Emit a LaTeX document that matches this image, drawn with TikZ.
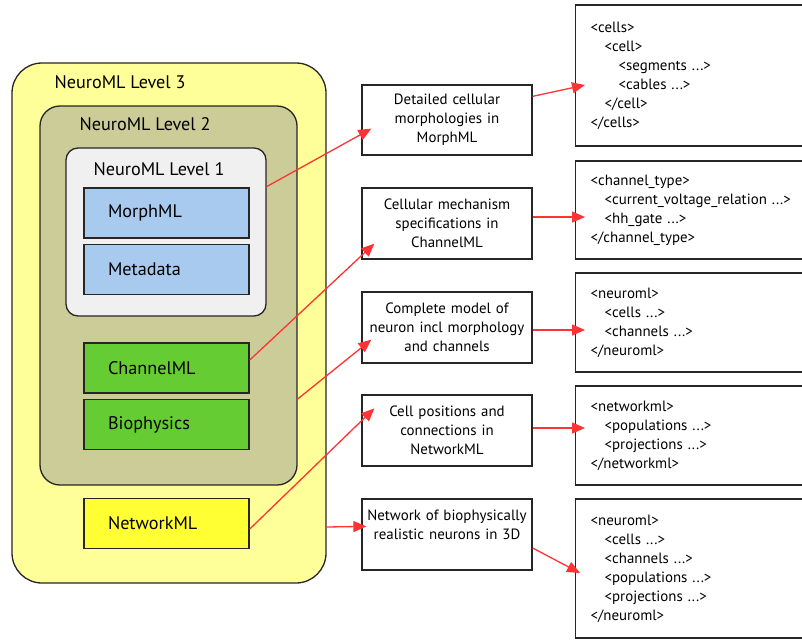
\documentclass[tikz,border=0pt]{standalone}
\usepackage{fontspec}
\setmainfont{PT Sans}
\usetikzlibrary{calc,arrows.meta}
\definecolor{lvlthree}{HTML}{FFFF99}
\definecolor{lvltwo}{HTML}{CCCC99}
\definecolor{lvlone}{HTML}{F0F0F0}
\definecolor{morphblue}{HTML}{A8CAEE}
\definecolor{chgreen}{HTML}{66CC33}
\definecolor{netyellow}{HTML}{FFFF33}
\definecolor{arrowred}{HTML}{FF3333}
\newcommand{\codein}{\hspace*{14pt}}
\newcommand{\bigtxt}{\fontsize{18.2}{21}\selectfont}
\newcommand{\smalltxt}{\fontsize{14.9}{19}\selectfont}
\begin{document}
\begin{tikzpicture}[x=1pt,y=1pt,>={Triangle[length=13pt,width=11pt]},
    lvl/.style={draw=black!85,line width=1.3pt,rounded corners=#1},
    lvltitle/.style={anchor=west,inner sep=0pt,font=\bigtxt},
    mlbox/.style={draw=black!85,line width=1.5pt,minimum width=165pt,minimum height=50pt,
        text width=117pt,inner xsep=24pt,align=left,font=\bigtxt},
    midbox/.style={draw=black!85,line width=1.3pt,minimum width=170pt,minimum height=71pt,
        text width=166pt,inner xsep=2pt,align=center,font=\smalltxt},
    codebox/.style={draw=black!85,line width=1.3pt,anchor=west,minimum height=#1,
        text width=240pt,inner xsep=15pt,align=left,font=\smalltxt},
    arrowline/.style={->,draw=arrowred,line width=1.3pt}]
\useasboundingbox (0,0) rectangle (802,-640);
% nested levels
\node[lvl=30pt,fill=lvlthree,minimum width=314pt,minimum height=520pt](l3) at (169,-323){};
\node[lvltitle] at ($(l3.north west)+(43,-20)$) {NeuroML Level 3};
\node[lvl=20pt,fill=lvltwo,minimum width=257pt,minimum height=379pt](l2) at (168.5,-295.5){};
\node[lvltitle] at ($(l2.north west)+(40,-19)$) {NeuroML Level 2};
\node[lvl=12pt,fill=lvlone,minimum width=200pt,minimum height=168pt](l1) at (166,-232){};
\node[lvltitle] at ($(l1.north west)+(28,-22)$) {NeuroML Level 1};
\node[mlbox,fill=morphblue](morph) at (166.5,-213){MorphML};
\node[mlbox,fill=morphblue](meta) at (166.5,-269.5){Metadata};
\node[mlbox,fill=chgreen](chan) at (166.5,-368){ChannelML};
\node[mlbox,fill=chgreen](bio) at (166.5,-424.5){Biophysics};
\node[mlbox,fill=netyellow](net) at (166.5,-523.5){NetworkML};
% descriptions
\node[midbox,minimum height=70pt](m1) at (447,-120){Detailed cellular\\morphologies in\\MorphML};
\node[midbox](m2) at (447,-223.5){Cellular mechanism\\specifications in\\ChannelML};
\node[midbox](m3) at (447,-327.5){Complete model of\\neuron incl morphology\\and channels};
\node[midbox](m4) at (447,-430.5){Cell positions and\\connections in\\NetworkML};
\node[midbox](m5) at (447,-534.5){Network of biophysically\\realistic neurons in 3D\\~};
% xml snippets
\node[codebox=141pt](r1) at (575,-75.5){<cells>\\\codein<cell>\\\codein\codein<segments ...>\\
    \codein\codein<cables ...>\\\codein</cell>\\</cells>};
\node[codebox=98pt](r2) at (575,-210){<channel\_type>\\\codein<current\_voltage\_relation ...>\\
    \codein<hh\_gate ...>\\</channel\_type>};
\node[codebox=99pt](r3) at (575,-322.5){<neuroml>\\\codein<cells ...>\\\codein<channels ...>\\</neuroml>};
\node[codebox=99pt](r4) at (575,-435.5){<networkml>\\\codein<populations ...>\\\codein<projections ...>\\</networkml>};
\node[codebox=139pt](r5) at (575,-568.5){<neuroml>\\\codein<cells ...>\\\codein<channels ...>\\
    \codein<populations ...>\\\codein<projections ...>\\</neuroml>};
% arrows
\draw[arrowline]($(l1.north east)!0.232!(l1.south east)$)--($(m1.south west)+(10,27)$);
\draw[arrowline]($(chan.east)+(0,8)$)--($(m2.south west)+(13,16)$);
\draw[arrowline]($(l2.east)+(0,-103.5)$)--($(m3.south west)+(10,24)$);
\draw[arrowline]($(net.east)+(0,-5.5)$)--($(m4.north west)+(13,-14)$);
\draw[arrowline]($(l3.east)+(0,-204)$)--($(m5.north west)+(5,-28)$);
\draw[arrowline]($(m1.north east)+(0,-12)$)--($(r1.west)+(10,-9.5)$);
\draw[arrowline]($(m2.east)+(0,6.5)$)--($(r2.west)+(10,-7)$);
\draw[arrowline]($(m3.east)+(0,-2.5)$)--($(r3.west)+(10,-7.5)$);
\draw[arrowline]($(m4.east)+(0,2.5)$)--($(r4.west)+(10,7.5)$);
\draw[arrowline]($(m5.east)+(0,-13.5)$)--($(r5.west)+(5,-4.5)$);
\end{tikzpicture}
\end{document}
